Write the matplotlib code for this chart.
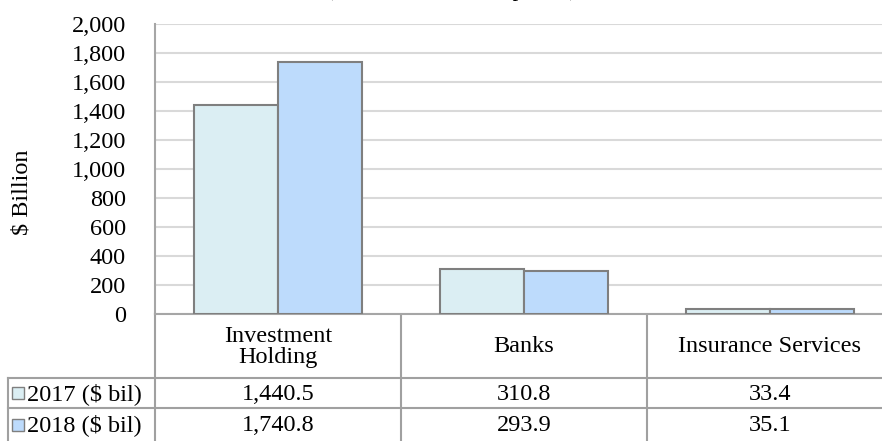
import matplotlib
matplotlib.use("Agg")
import matplotlib.pyplot as plt
from matplotlib.patches import Rectangle

categories = ["Investment\nHolding", "Banks", "Insurance Services"]
series_names = ["2017 ($ bil)", "2018 ($ bil)"]
values_2017 = [1440.5, 310.8, 33.4]
values_2018 = [1740.8, 293.9, 35.1]
table_2017 = ["1,440.5", "310.8", "33.4"]
table_2018 = ["1,740.8", "293.9", "35.1"]
yticks = list(range(0, 2001, 200))
colors = ["#DBEEF3", "#BDDBFC"]
edge = "#7F7F7F"

plt.rcParams['font.family'] = ['Liberation Serif', 'DejaVu Serif']
FS = 17.5

W, H = 882, 441
fig = plt.figure(figsize=(W / 100, H / 100), dpi=100)

# pixel layout (plot area extends slightly past the right edge)
ax_left, ax_right, ax_top, ax_bottom = 155, 893, 24, 314
ax = fig.add_axes([ax_left / W, (H - ax_bottom) / H,
                   (ax_right - ax_left) / W, (ax_bottom - ax_top) / H])

n = len(categories)
bw = 0.342
xs = list(range(n))
ax.bar([x - bw / 2 for x in xs], values_2017, width=bw, color=colors[0],
       edgecolor=edge, linewidth=1.5, zorder=3)
ax.bar([x + bw / 2 for x in xs], values_2018, width=bw, color=colors[1],
       edgecolor=edge, linewidth=1.5, zorder=3)
ax.set_xlim(-0.5, n - 0.5)
ax.set_ylim(0, 2000)
ax.set_yticks(yticks)
ax.set_yticklabels([f"{v:,}" for v in yticks], fontsize=FS)
ax.set_xticks([])
ax.tick_params(axis='y', length=0, pad=21)
ax.grid(axis='y', color="#D9D9D9", linewidth=1.5, zorder=0)
for s in ['top', 'right']:
    ax.spines[s].set_visible(False)
ax.spines['left'].set_color("#A6A6A6")
ax.spines['left'].set_linewidth(1.5)
ax.spines['bottom'].set_color("#A6A6A6")
ax.spines['bottom'].set_linewidth(1.5)
ax.set_ylabel("$ Billion", fontsize=FS)
ax.yaxis.set_label_coords(-0.166, 0.42)

# title (mostly cut off at top of image, as in the reference)
fig.text(451 / W, 1.0 + 3.8 / H, "(Assets of listed companies)", ha='center',
         va='baseline', fontsize=16)

# data table below
tax = fig.add_axes([0, 0, 1, 1], zorder=-1)
tax.set_xlim(0, W)
tax.set_ylim(H, 0)
tax.axis('off')
lc = "#A0A0A0"
lw = 1.5
colw = (ax_right - ax_left) / n
row_h = [ax_bottom, 378, 408, H]
for i in range(n):
    x = ax_left + i * colw
    tax.plot([x, x], [ax_bottom, H], color=lc, lw=lw)
for y in row_h[1:3]:
    tax.plot([8, W], [y, y], color=lc, lw=lw)
tax.plot([8, 8], [row_h[1], H], color=lc, lw=lw)

for i, c in enumerate(categories):
    cx = ax_left + (i + 0.5) * colw
    tax.text(cx, (row_h[0] + row_h[1]) / 2 + 1, c, ha='center', va='center',
             fontsize=FS, linespacing=0.95)
    tax.text(cx, (row_h[1] + row_h[2]) / 2 + 1, table_2017[i], ha='center',
             va='center', fontsize=FS)
    tax.text(cx, (row_h[2] + row_h[3]) / 2 + 1, table_2018[i], ha='center',
             va='center', fontsize=FS)

for r, (name, col) in enumerate(zip(series_names, colors)):
    yc = (row_h[r + 1] + row_h[r + 2]) / 2
    tax.add_patch(Rectangle((12, yc - 6), 12, 12, facecolor=col,
                            edgecolor=edge, lw=1.0))
    tax.text(27, yc + 1, name, ha='left', va='center', fontsize=FS)

fig.savefig("out.png", dpi=100)
